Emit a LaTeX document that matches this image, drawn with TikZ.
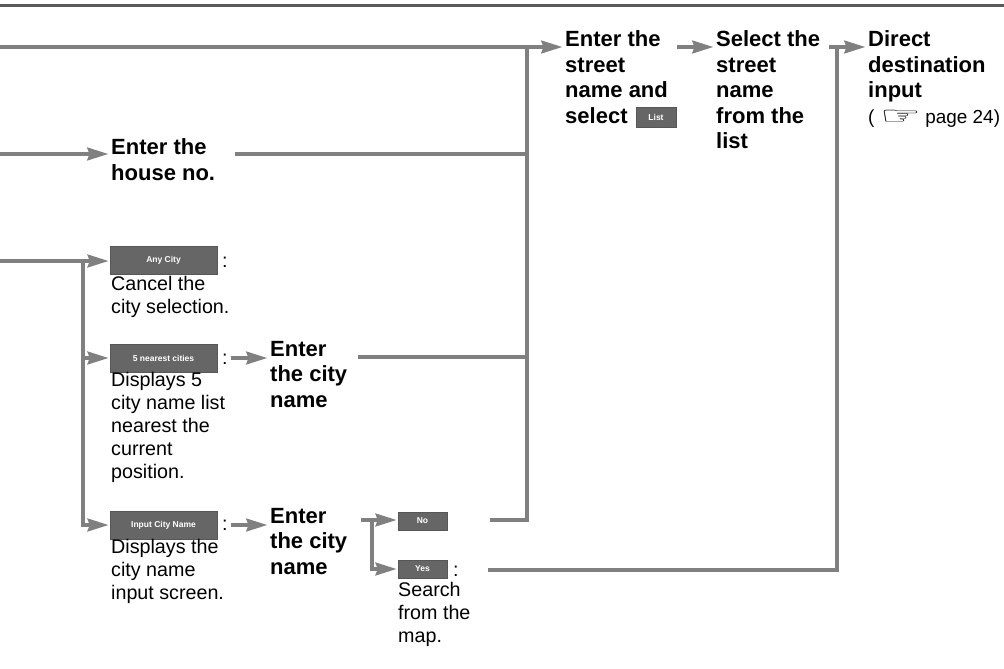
\documentclass[tikz,border=0pt]{standalone}
\usepackage{fontspec}
\setmainfont{Liberation Sans}
\newfontfamily\symf{DejaVu Sans}
\usetikzlibrary{arrows.meta}
\definecolor{flow}{HTML}{808080}
\definecolor{rulec}{HTML}{5A5A5A}
\definecolor{btn}{HTML}{666666}
\newcommand{\regf}{\fontsize{18.9}{23}\selectfont\mdseries}
\tikzset{
  flowline/.style={draw=flow,line width=4pt},
  flowvert/.style={draw=flow,line width=3.6pt},
  flowarrow/.style={flowline,shorten >=2.5pt,-{Stealth[length=21pt,width=12.5pt,inset=2pt]}},
  boldtext/.style={anchor=north west,inner sep=0pt,align=left,font=\fontsize{22}{25.5}\selectfont\bfseries,execute at begin node={\rule{0pt}{16pt}}},
  regtext/.style={anchor=north west,inner sep=0pt,align=left,font=\fontsize{19.7}{23}\selectfont,execute at begin node={\rule{0pt}{16pt}}},
  button/.style={fill=btn,draw=btn!85!black,line width=0.5pt,inner sep=0pt,text=white,font=\fontsize{8.5}{9}\selectfont\bfseries,minimum height=#1},
  button/.default=28pt
}
\begin{document}
\begin{tikzpicture}[x=1pt,y=-1pt]
\useasboundingbox (0,0) rectangle (1004,669);
\draw[rulec,line width=2.2pt] (0,5.5) -- (1004,5.5);
% text nodes (y = first baseline - 16)
\node[boldtext] (street) at (565,30.5) {Enter the\\street\\name and\\select};
\node[button=20pt,minimum width=40pt] (list) at (656,117) {List};
\node[boldtext] (select) at (716,30.5) {Select the\\street\\name\\from the\\list};
\node[boldtext] (direct) at (868,30.5) {Direct\\destination\\input\\{\regf( \raisebox{-1pt}{\scalebox{1.85}[1]{\symf\fontsize{25}{25}\selectfont ☞}}\hspace{-1pt} page 24)}};
\node[boldtext] (house) at (111,138.5) {Enter the\\house no.};
% buttons
\node[button,minimum width=107pt] (any) at (163.5,260) {Any City};
\node[regtext] (anyc) at (222,251) {:};
\node[regtext] (anyt) at (111,276) {Cancel the\\city selection.};
\node[button,minimum width=107pt] (near) at (163.5,358) {5 nearest cities};
\node[regtext] (nearc) at (222,348) {:};
\node[regtext] (neart) at (111,372) {Displays 5\\city name list\\nearest the\\current\\position.};
\node[button,minimum width=107pt] (input) at (163.5,525) {Input City Name};
\node[regtext] (inputc) at (222,514) {:};
\node[regtext] (inputt) at (111,539) {Displays the\\city name\\input screen.};
\node[boldtext] (city1) at (270,341) {Enter\\the city\\name};
\node[boldtext] (city2) at (270,508) {Enter\\the city\\name};
\node[button=18pt,minimum width=49pt] (no) at (422.5,521) {No};
\node[button=18pt,minimum width=49pt] (yes) at (422.5,569) {Yes};
\node[regtext] (yesc) at (453,560) {:};
\node[regtext] (yest) at (398,582) {Search\\from the\\map.};
% free ends and junctions
\coordinate (s1) at (0,47);
\coordinate (s2) at (0,154);
\coordinate (s3) at (0,261);
\coordinate (v1top) at (527,47);
\coordinate (v2top) at (837,47);
\coordinate (b1) at (83,261);
\coordinate (e2) at (231,358);
\coordinate (e3) at (231,525);
\coordinate (f1) at (361,520);
\coordinate (f2) at (372,520);
\coordinate (no2) at (490,520);
\coordinate (yes2) at (488,570);
% connectors
\draw[flowarrow] (s1) -- (s1 -| street.west);
\draw[flowarrow] (677,47) -- (select.west |- s1);
\draw[flowarrow] (829,47) -- (direct.west |- s1);
\draw[flowarrow] (s2) -- (s2 -| house.west);
\draw[flowline] (235,154) -- (527,154);
\draw[flowarrow,shorten >=1pt] (s3) -- (any.west |- s3);
\draw[flowvert] (v1top) -- (527,521.8);
\draw[flowvert] (v2top) -- (837,571.8);
\draw[flowvert] (b1) -- (83,527);
\draw[flowarrow,shorten >=1pt] (83,358) -- (near.west);
\draw[flowarrow,shorten >=1pt] (81.2,525) -- (input.west);
\draw[flowarrow] (e2) -- (e2 -| city1.west);
\draw[flowarrow] (e3) -- (e3 -| city2.west);
\draw[flowline] (358,357) -- (527,357);
\draw[flowarrow,shorten >=1pt] (f1) -- (f1 -| no.west);
\draw[flowvert] (f2) -- (372,571);
\draw[flowarrow,shorten >=1pt] (370.2,569) -- (yes.west);
\draw[flowline] (no2) -- (528,520);
\draw[flowline] (yes2) -- (838,570);
\end{tikzpicture}
\end{document}
